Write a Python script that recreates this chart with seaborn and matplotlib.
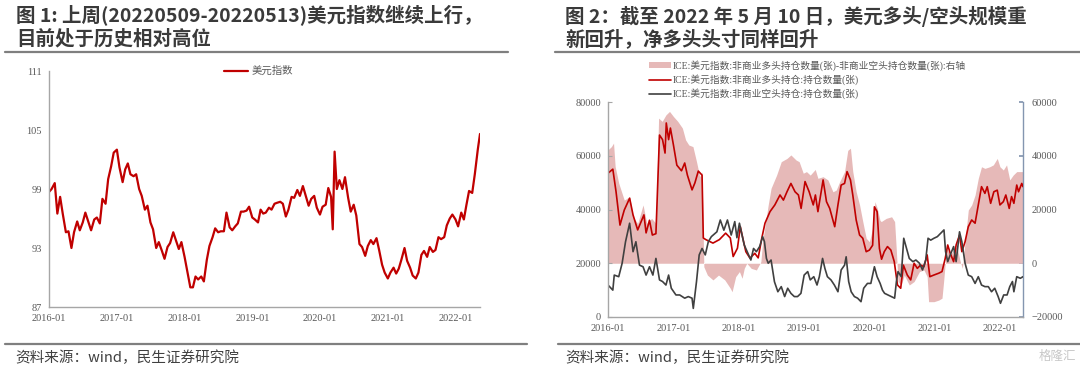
import matplotlib
matplotlib.use("Agg")
import matplotlib.pyplot as plt
import matplotlib.dates as mdates
from matplotlib.lines import Line2D
from matplotlib.patches import Patch
import pandas as pd
import seaborn as sns

# ---------------- data: left chart (US dollar index) ----------------
dxy_dates = [
    "2016-01-01","2016-01-15","2016-02-01","2016-02-15","2016-03-01","2016-03-15","2016-04-01","2016-04-15",
    "2016-05-01","2016-05-15","2016-06-01","2016-06-15","2016-07-01","2016-07-15","2016-08-01","2016-08-15",
    "2016-09-01","2016-09-15","2016-10-01","2016-10-15","2016-11-01","2016-11-15","2016-12-01","2016-12-15",
    "2017-01-01","2017-01-15","2017-02-01","2017-02-15","2017-03-01","2017-03-15","2017-04-01","2017-04-15",
    "2017-05-01","2017-05-15","2017-06-01","2017-06-15","2017-07-01","2017-07-15","2017-08-01","2017-08-15",
    "2017-09-01","2017-09-15","2017-10-01","2017-10-15","2017-11-01","2017-11-15","2017-12-01","2017-12-15",
    "2018-01-01","2018-01-15","2018-02-01","2018-02-15","2018-03-01","2018-03-15","2018-04-01","2018-04-15",
    "2018-05-01","2018-05-15","2018-06-01","2018-06-15","2018-07-01","2018-07-15","2018-08-01","2018-08-15",
    "2018-09-01","2018-09-15","2018-10-01","2018-10-15","2018-11-01","2018-11-15","2018-12-01","2018-12-15",
    "2019-01-01","2019-01-15","2019-02-01","2019-02-15","2019-03-01","2019-03-15","2019-04-01","2019-04-15",
    "2019-05-01","2019-05-15","2019-06-01","2019-06-15","2019-07-01","2019-07-15","2019-08-01","2019-08-15",
    "2019-09-01","2019-09-15","2019-10-01","2019-10-15","2019-11-01","2019-11-15","2019-12-01","2019-12-15",
    "2020-01-01","2020-01-15","2020-02-01","2020-02-15","2020-03-01","2020-03-10","2020-03-20","2020-04-01",
    "2020-04-15","2020-05-01","2020-05-15","2020-06-01","2020-06-15","2020-07-01","2020-07-15","2020-08-01",
    "2020-08-15","2020-09-01","2020-09-15","2020-10-01","2020-10-15","2020-11-01","2020-11-15","2020-12-01",
    "2020-12-15","2021-01-01","2021-01-15","2021-02-01","2021-02-15","2021-03-01","2021-03-15","2021-04-01",
    "2021-04-15","2021-05-01","2021-05-15","2021-06-01","2021-06-15","2021-07-01","2021-07-15","2021-08-01",
    "2021-08-15","2021-09-01","2021-09-15","2021-10-01","2021-10-15","2021-11-01","2021-11-15","2021-12-01",
    "2021-12-15","2022-01-01","2022-01-15","2022-02-01","2022-02-15","2022-03-01","2022-03-15","2022-04-01",
    "2022-04-15","2022-05-01","2022-05-13",
]
dxy_values = [
    98.7, 99.0, 99.6, 96.5, 98.2, 96.5, 94.6, 94.7,
    93.0, 94.6, 95.7, 94.8, 95.6, 96.6, 95.6, 94.8,
    95.9, 96.1, 95.5, 98.0, 97.5, 100.0, 101.3, 102.7,
    103.0, 101.2, 99.7, 101.0, 101.6, 100.5, 100.3, 100.5,
    99.0, 98.3, 96.9, 97.3, 95.6, 94.9, 93.0, 93.6,
    92.7, 91.9, 93.1, 93.5, 94.6, 93.8, 92.9, 93.6,
    92.1, 90.7, 89.0, 89.0, 90.1, 89.8, 90.1, 89.6,
    91.8, 93.2, 94.1, 95.0, 94.6, 94.7, 94.7, 96.6,
    95.1, 94.8, 95.2, 95.5, 96.7, 96.7, 96.8, 97.2,
    96.1, 95.9, 95.6, 96.9, 96.5, 96.6, 97.1, 96.9,
    97.5, 97.6, 97.7, 97.5, 96.2, 96.9, 98.2, 98.1,
    98.9, 98.3, 99.3, 98.4, 97.3, 98.0, 98.3, 97.1,
    96.4, 97.2, 97.4, 99.1, 98.2, 94.9, 102.8, 99.0,
    99.9, 99.0, 100.2, 98.1, 96.7, 97.4, 96.3, 93.4,
    93.1, 92.2, 93.2, 93.8, 93.4, 94.0, 92.8, 91.3,
    90.5, 89.9, 90.5, 91.0, 90.4, 90.9, 91.8, 93.0,
    91.7, 91.0, 90.2, 89.9, 90.5, 92.3, 92.7, 92.1,
    93.1, 92.6, 92.8, 94.1, 93.9, 94.1, 95.3, 96.0,
    96.4, 95.9, 95.2, 96.6, 95.9, 97.4, 98.8, 98.6,
    100.5, 103.0, 104.6,
]

# ---------------- data: right chart (ICE dollar index positions) ----------------
long_dates = [
    "2016-01-01","2016-01-28","2016-02-15","2016-03-08","2016-04-01","2016-05-01","2016-05-20","2016-06-15",
    "2016-07-20","2016-08-01","2016-08-20","2016-09-05","2016-09-25","2016-10-15","2016-11-01","2016-11-15",
    "2016-11-22","2016-12-05","2016-12-15","2017-01-01","2017-01-20","2017-02-15","2017-03-05","2017-03-20",
    "2017-04-15","2017-05-01","2017-05-20","2017-06-10","2017-06-17","2017-07-01","2017-08-10","2017-09-15",
    "2017-10-20","2017-11-15","2017-12-01","2017-12-25","2018-01-10","2018-01-25","2018-02-10","2018-03-05",
    "2018-04-01","2018-04-20","2018-05-10","2018-05-28","2018-06-25","2018-07-22","2018-08-20","2018-09-08",
    "2018-09-28","2018-10-20","2018-11-12","2018-12-01","2018-12-16","2019-01-07","2019-01-30","2019-02-22",
    "2019-03-06","2019-03-20","2019-04-18","2019-05-07","2019-05-25","2019-06-22","2019-07-10","2019-07-28",
    "2019-08-16","2019-08-30","2019-09-18","2019-10-01","2019-10-20","2019-11-08","2019-11-26","2019-12-15",
    "2020-01-02","2020-01-20","2020-01-30","2020-02-14","2020-02-27","2020-03-10","2020-03-25","2020-04-12",
    "2020-05-01","2020-05-20","2020-06-07","2020-06-25","2020-07-10","2020-08-01","2020-08-20","2020-09-08",
    "2020-09-26","2020-10-14","2020-11-02","2020-11-20","2020-12-05","2020-12-27","2021-01-24","2021-02-11",
    "2021-03-01","2021-03-15","2021-03-29","2021-04-17","2021-05-01","2021-05-20","2021-06-02","2021-06-20",
    "2021-07-08","2021-07-27","2021-08-15","2021-09-02","2021-09-20","2021-10-09","2021-10-22","2021-11-10",
    "2021-11-28","2021-12-17","2022-01-01","2022-01-20","2022-02-03","2022-02-22","2022-03-07","2022-03-20",
    "2022-04-05","2022-04-15","2022-05-03","2022-05-10",
]
long_values = [
    53500, 55000, 46600, 34200, 39800, 44200, 38000, 32400,
    38000, 31300, 36000, 30500, 31000, 67700, 66000, 61000,
    72200, 66000, 70300, 64000, 56500, 54400, 57300, 52800,
    47300, 49900, 54300, 52800, 29400, 28800, 27500, 28800,
    31200, 29400, 22500, 25600, 33600, 29000, 24300, 21900,
    23700, 22000, 29300, 34900, 39200, 41700, 45400, 43500,
    46600, 49700, 46600, 45400, 40400, 50400, 46600, 41700,
    45400, 39200, 51000, 42900, 40400, 33600, 41700, 49100,
    49700, 54100, 51000, 45400, 36100, 30500, 29300, 24300,
    24900, 26700, 41000, 39200, 25500, 21500, 24300, 26200,
    24900, 20600, 11900, 10700, 19300, 15600, 13800, 20000,
    18100, 19300, 18700, 23100, 15000, 15600, 16300, 16900,
    21800, 26800, 23700, 20600, 26800, 30500, 24300, 28000,
    33600, 36100, 34900, 41700, 48500, 46000, 48500, 42300,
    46600, 47200, 41700, 42900, 45400, 40400, 44800, 42300,
    49100, 46600, 49700, 48500,
]

short_dates = [
    "2016-01-01","2016-01-28","2016-02-05","2016-03-01","2016-03-20","2016-04-08","2016-05-01","2016-05-20",
    "2016-06-05","2016-06-25","2016-07-15","2016-08-01","2016-08-20","2016-09-08","2016-09-25","2016-10-15",
    "2016-11-01","2016-11-20","2016-12-05","2016-12-20","2017-01-15","2017-02-05","2017-03-05","2017-03-25",
    "2017-04-15","2017-04-22","2017-05-10","2017-05-25","2017-06-10","2017-06-28","2017-07-15","2017-08-01",
    "2017-09-01","2017-09-20","2017-10-10","2017-10-30","2017-11-20","2017-12-10","2017-12-22","2018-01-05",
    "2018-02-01","2018-02-25","2018-03-10","2018-03-25","2018-04-10","2018-04-28","2018-05-15","2018-05-25",
    "2018-06-05","2018-06-15","2018-07-01","2018-07-20","2018-08-08","2018-08-27","2018-09-15","2018-10-02",
    "2018-10-20","2018-11-08","2018-11-26","2018-12-15","2019-01-02","2019-01-22","2019-02-05","2019-02-25",
    "2019-03-15","2019-03-28","2019-04-15","2019-04-28","2019-05-12","2019-06-01","2019-06-20","2019-07-10",
    "2019-07-28","2019-08-16","2019-08-25","2019-09-08","2019-09-22","2019-10-10","2019-10-28","2019-11-16",
    "2019-12-01","2019-12-22","2020-01-10","2020-01-30","2020-02-14","2020-03-02","2020-03-15","2020-03-27",
    "2020-04-15","2020-05-05","2020-05-22","2020-06-01","2020-06-10","2020-06-28","2020-07-12","2020-07-25",
    "2020-08-12","2020-09-01","2020-09-18","2020-10-08","2020-10-25","2020-11-12","2020-11-25","2020-12-10",
    "2020-12-28","2021-01-16","2021-02-03","2021-02-22","2021-03-03","2021-03-15","2021-03-29","2021-04-17",
    "2021-05-01","2021-05-20","2021-06-02","2021-06-20","2021-07-08","2021-07-27","2021-08-15","2021-09-02",
    "2021-09-20","2021-10-09","2021-10-28","2021-11-15","2021-12-03","2021-12-22","2022-01-04","2022-01-22",
    "2022-02-10","2022-02-25","2022-03-12","2022-03-20","2022-04-05","2022-04-25","2022-05-10",
]
short_values = [
    11900, 10000, 15600, 15000, 20000, 28000, 34900, 24300,
    28000, 19300, 18700, 15600, 18700, 15600, 21800, 13800,
    13200, 11900, 15600, 10700, 8200, 8200, 7000, 7600,
    7000, 3200, 13200, 23100, 25500, 23100, 28000, 29900,
    31700, 36100, 32300, 36100, 30500, 35500, 29500, 34900,
    26800, 23100, 21200, 25500, 24300, 26200, 29900, 28000,
    21800, 20000, 21200, 13100, 9400, 11300, 7600, 10700,
    8800, 7600, 7600, 8800, 15600, 16900, 13800, 15000,
    11900, 15000, 21800, 18100, 15000, 13800, 11900, 9400,
    17500, 19300, 22400, 13200, 9400, 7600, 7000, 5700,
    10700, 12500, 12500, 18700, 15000, 12500, 10000, 8800,
    8200, 7600, 7000, 13200, 16900, 15000, 29300, 26200,
    21800, 20600, 21200, 20000, 17500, 21200, 29300, 28600,
    29300, 29900, 31100, 32400, 24300, 20600, 23100, 26200,
    20600, 31700, 28000, 20000, 15600, 15000, 12500, 15000,
    11900, 11300, 11300, 9400, 10700, 7600, 5100, 8200,
    8200, 11300, 13200, 9400, 15000, 14400, 15000,
]

net_dates = [
    "2016-01-01","2016-01-20","2016-02-01","2016-02-10","2016-03-01","2016-04-01","2016-05-01","2016-05-20",
    "2016-06-15","2016-07-15","2016-08-05","2016-09-01","2016-09-25","2016-10-10","2016-10-30","2016-11-20",
    "2016-12-10","2017-01-01","2017-01-25","2017-02-20","2017-03-10","2017-03-28","2017-04-20","2017-05-10",
    "2017-05-28","2017-06-10","2017-06-20","2017-07-10","2017-08-10","2017-09-10","2017-10-15","2017-11-15",
    "2017-11-25","2017-12-15","2018-01-05","2018-01-20","2018-02-01","2018-02-15","2018-03-12","2018-04-10",
    "2018-05-05","2018-05-15","2018-06-15","2018-07-01","2018-08-01","2018-08-27","2018-09-28","2018-10-20",
    "2018-11-18","2018-12-05","2018-12-28","2019-01-15","2019-02-05","2019-03-05","2019-03-20","2019-04-18",
    "2019-05-15","2019-06-12","2019-06-30","2019-07-20","2019-08-16","2019-09-03","2019-09-18","2019-10-01",
    "2019-10-20","2019-11-08","2019-11-26","2019-12-15","2020-01-02","2020-01-20","2020-02-02","2020-02-15",
    "2020-03-01","2020-03-08","2020-04-05","2020-05-05","2020-05-22","2020-06-01","2020-06-10","2020-06-28",
    "2020-07-15","2020-08-12","2020-09-08","2020-10-08","2020-11-02","2020-11-20","2020-11-28","2020-12-28",
    "2021-01-24","2021-02-11","2021-02-20","2021-03-01","2021-03-10","2021-03-29","2021-04-17","2021-05-05",
    "2021-05-22","2021-06-05","2021-06-20","2021-07-08","2021-07-27","2021-08-15","2021-09-02","2021-09-20",
    "2021-10-09","2021-11-05","2021-11-25","2021-12-17","2022-01-01","2022-01-20","2022-02-07","2022-02-25",
    "2022-03-16","2022-04-05","2022-05-10",
]
net_values = [
    42200, 43400, 44700, 36000, 29800, 23500, 24800, 17300,
    14800, 21700, 14800, 16700, 14800, 54000, 52800, 55200,
    56500, 54600, 52800, 50300, 45900, 44000, 43400, 37800,
    32200, 34000, -1300, -4400, -6200, -4400, -6200, -9300,
    -10600, -5000, -3100, -5600, -1900, 0, -1900, -2500,
    600, 8000, 21700, 27900, 32800, 37800, 39000, 40300,
    38400, 37800, 33500, 34100, 32800, 34900, 31600, 32200,
    31000, 26600, 27200, 30400, 34100, 42000, 42800, 34100,
    26600, 21700, 15500, 9300, 8000, 13000, 22900, 20400,
    16000, 15500, 16700, 17300, 15500, 4300, -6800, -8100,
    -4400, -8100, -6800, -3100, -2500, -5000, -14300, -14300,
    -13700, -13000, -6800, 0, 5500, 3100, 4900, 6200,
    1200, -1900, 8000, 19800, 21700, 25400, 31600, 35900,
    35300, 35900, 36600, 39000, 35900, 34700, 36600, 31000,
    32800, 34100, 34100,
]

left_ticks = [87, 93, 99, 105, 111]
right_left_ticks = [0, 20000, 40000, 60000, 80000]
right_right_ticks = [-20000, 0, 20000, 40000, 60000]

title1_l1 = "图 1: 上周(20220509-20220513)美元指数继续上行，"
title1_l2 = "目前处于历史相对高位"
title2_l1 = "图 2：截至 2022 年 5 月 10 日，美元多头/空头规模重"
title2_l2 = "新回升，净多头头寸同样回升"
source_text = "资料来源：wind，民生证券研究院"
legend_left = "美元指数"
legend_net = "ICE:美元指数:非商业多头持仓数量(张)-非商业空头持仓数量(张):右轴"
legend_long = "ICE:美元指数:非商业多头持仓:持仓数量(张)"
legend_short = "ICE:美元指数:非商业空头持仓:持仓数量(张)"

# ---------------- styling ----------------
sns.set_theme(style="white")
SERIF = ["Liberation Serif", "Noto Sans CJK SC"]
SANS = ["Noto Sans CJK SC", "DejaVu Sans"]
plt.rcParams["font.family"] = SERIF
RED = "#C00000"
DARK = "#404040"
PINK = "#E6B9B8"
TICKC = "#595959"
SPINE = "#A6A6A6"

fig = plt.figure(figsize=(10.8, 3.71), dpi=100)

def style_axis(ax):
    for s in ["top", "right"]:
        ax.spines[s].set_visible(False)
    for s in ["left", "bottom"]:
        ax.spines[s].set_color(SPINE)
        ax.spines[s].set_linewidth(1.0)
    ax.tick_params(axis="both", which="major", direction="out", length=3, width=0.8,
                   color=SPINE, labelcolor=TICKC, labelsize=7.5, pad=2)
    ax.grid(False)

# ---------------- left chart ----------------
df_dxy = pd.DataFrame({"date": pd.to_datetime(dxy_dates), "value": dxy_values})
ax1 = fig.add_axes([49 / 1080, 1 - 307 / 371, 431 / 1080, 236 / 371])
sns.lineplot(data=df_dxy, x="date", y="value", ax=ax1, color=RED, lw=1.6, label=legend_left)
ax1.set_xlim(pd.Timestamp("2016-01-01"), pd.Timestamp("2022-05-13"))
ax1.set_ylim(87, 111)
ax1.set_yticks(left_ticks)
ax1.xaxis.set_major_locator(mdates.YearLocator())
ax1.xaxis.set_major_formatter(mdates.DateFormatter("%Y-%m"))
ax1.set_xlabel("")
ax1.set_ylabel("")
style_axis(ax1)
leg1 = ax1.legend(loc="upper left", bbox_to_anchor=(224 / 1080, 1 - 66 / 371),
                  bbox_transform=fig.transFigure, frameon=False,
                  handlelength=2.3, handletextpad=0.3, borderpad=0, borderaxespad=0,
                  prop={"family": SERIF, "size": 7.5})
for t in leg1.get_texts():
    t.set_color(TICKC)

# ---------------- right chart ----------------
df_long = pd.DataFrame({"date": pd.to_datetime(long_dates), "value": long_values})
df_short = pd.DataFrame({"date": pd.to_datetime(short_dates), "value": short_values})
df_net = pd.DataFrame({"date": pd.to_datetime(net_dates), "value": net_values})

ax2 = fig.add_axes([608 / 1080, 1 - 317 / 371, 415 / 1080, 215 / 371])
ax3 = ax2.twinx()
ax3.fill_between(df_net["date"], df_net["value"], 0, color=PINK, lw=0)
ax3.set_ylim(-20000, 60000)
ax3.set_yticks(right_right_ticks)
ax2.set_zorder(ax3.get_zorder() + 1)
ax2.patch.set_visible(False)

sns.lineplot(data=df_long, x="date", y="value", ax=ax2, color=RED, lw=1.2)
sns.lineplot(data=df_short, x="date", y="value", ax=ax2, color=DARK, lw=1.2)
ax2.set_xlim(pd.Timestamp("2016-01-01"), pd.Timestamp("2022-05-10"))
ax2.set_ylim(0, 80000)
ax2.set_yticks(right_left_ticks)
ax2.xaxis.set_major_locator(mdates.YearLocator())
ax2.xaxis.set_major_formatter(mdates.DateFormatter("%Y-%m"))
ax2.set_xlabel("")
ax2.set_ylabel("")
style_axis(ax2)
ax2.tick_params(axis="both", direction="in")
ax2.tick_params(axis="x", pad=5)
ax2.tick_params(axis="y", pad=5)

for s in ["top", "left", "bottom"]:
    ax3.spines[s].set_visible(False)
ax3.spines["right"].set_color("#8496B0")
ax3.spines["right"].set_linewidth(1.0)
ax3.tick_params(axis="y", direction="in", length=3, color="#8496B0", labelcolor=TICKC,
                labelsize=7.5, pad=6)
ax3.grid(False)
ax3.set_ylabel("")

handles = [Patch(facecolor=PINK, edgecolor="none"),
           Line2D([], [], color=RED, lw=1.2),
           Line2D([], [], color=DARK, lw=1.2)]
leg2 = fig.legend(handles, [legend_net, legend_long, legend_short], loc="upper left",
                  bbox_to_anchor=(649 / 1080, 1 - 60 / 371), frameon=False,
                  handlelength=2.3, handleheight=0.6, handletextpad=0.15, labelspacing=0.35,
                  borderpad=0, borderaxespad=0, prop={"family": SERIF, "size": 7})
for t in leg2.get_texts():
    t.set_color(TICKC)

# ---------------- titles, rules, sources ----------------
title_kw = dict(fontsize=14, fontweight="bold", color="#3A3A3A", va="center", ha="left", family=SANS)
fig.text(16 / 1080, 1 - 16 / 371, title1_l1, **title_kw)
fig.text(16 / 1080, 1 - 39 / 371, title1_l2, **title_kw)
fig.text(565 / 1080, 1 - 16 / 371, title2_l1, **title_kw)
fig.text(565 / 1080, 1 - 39 / 371, title2_l2, **title_kw)

rule_kw = dict(transform=fig.transFigure, color="#7F7F7F", lw=1.6)
fig.add_artist(Line2D([5 / 1080, 508 / 1080], [1 - 52 / 371] * 2, **rule_kw))
fig.add_artist(Line2D([555 / 1080, 1.0], [1 - 52 / 371] * 2, **rule_kw))
fig.add_artist(Line2D([5 / 1080, 527 / 1080], [1 - 344 / 371] * 2, **rule_kw))
fig.add_artist(Line2D([558 / 1080, 1.0], [1 - 344 / 371] * 2, **rule_kw))

src_kw = dict(fontsize=10.5, color="#404040", va="center", ha="left", family=SANS)
fig.text(15 / 1080, 1 - 358 / 371, source_text, **src_kw)
fig.text(565 / 1080, 1 - 358 / 371, source_text, **src_kw)
fig.text(1076 / 1080, 1 - 356 / 371, "格隆汇", fontsize=9, color="#C8C8C8", va="center",
         ha="right", family=SANS)

fig.savefig("out.png", dpi=100)
